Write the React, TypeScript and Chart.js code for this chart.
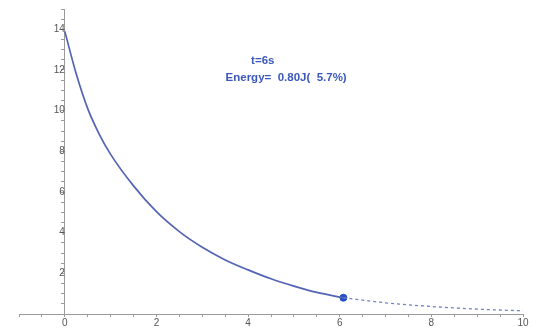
import React, { useEffect, useRef } from "react";
import { Chart, registerables } from "chart.js";

Chart.register(...registerables);

// Solid part of the curve
const tSolid = [0, 0.25, 0.5, 0.75, 1.0, 1.5, 2.0, 2.5, 3.0, 3.5, 4.0, 4.5, 5.0, 5.5, 6.08];
const ySolid = [13.9, 11.8, 10.1, 8.85, 7.85, 6.3, 5.03, 4.05, 3.28, 2.66, 2.17, 1.73, 1.37, 1.06, 0.8];
// Dashed continuation
const tDash = [6.08, 7.0, 8.0, 9.0, 10.0];
const yDash = [0.8, 0.55, 0.37, 0.24, 0.155];
// Current point
const tNow = [6.08];
const yNow = [0.8];

const xTickLabels = [0, 2, 4, 6, 8, 10];
const yTickLabels = [2, 4, 6, 8, 10, 12, 14];

const titleLine1 = "t=6s";
const titleLine2 = "Energy=  0.80J(  5.7%)";

const lineColor = "#5464b4";
const dashColor = "#7582c2";
const pointColor = "#2350c6";
const textColor = "#3c58bc";
const axisColor = "#9a9a9a";
const tickTextColor = "#555555";

export default function App() {
  const ref = useRef<HTMLCanvasElement | null>(null);

  useEffect(() => {
    document.body.style.margin = "0";
    const canvas = ref.current;
    if (!canvas) return;

    const textPlugin = {
      id: "annot",
      afterDatasetsDraw(chart: any) {
        const ctx = chart.ctx;
        const xs = chart.scales.x;
        const ys = chart.scales.y;
        ctx.save();
        ctx.fillStyle = textColor;
        ctx.font = "bold 11.5px 'Liberation Sans', Arial, sans-serif";
        ctx.textAlign = "center";
        ctx.textBaseline = "alphabetic";
        ctx.fillText(titleLine1, xs.getPixelForValue(4.32), ys.getPixelForValue(12.31));
        ctx.fillText(titleLine2, xs.getPixelForValue(4.83), ys.getPixelForValue(11.45));
        ctx.restore();
      },
    };

    const chart = new Chart(canvas, {
      type: "line",
      data: {
        datasets: [
          {
            data: tSolid.map((t, i) => ({ x: t, y: ySolid[i] })),
            borderColor: lineColor,
            borderWidth: 1.7,
            pointRadius: 0,
            cubicInterpolationMode: "monotone",
            fill: false,
          },
          {
            data: tDash.map((t, i) => ({ x: t, y: yDash[i] })),
            borderColor: dashColor,
            borderWidth: 1.3,
            borderDash: [3, 3],
            pointRadius: 0,
            cubicInterpolationMode: "monotone",
            fill: false,
          },
          {
            data: tNow.map((t, i) => ({ x: t, y: yNow[i] })),
            showLine: false,
            pointRadius: 3.5,
            pointBackgroundColor: pointColor,
            pointBorderColor: pointColor,
          },
        ],
      } as any,
      options: {
        animation: false,
        responsive: false,
        maintainAspectRatio: false,
        layout: { padding: { left: 19, right: 13, top: 4, bottom: 2 } },
        plugins: {
          legend: { display: false },
          tooltip: { enabled: false },
          title: { display: false },
        },
        scales: {
          x: {
            type: "linear",
            min: -1,
            max: 10,
            position: "bottom",
            grid: {
              drawOnChartArea: false,
              drawTicks: true,
              tickLength: 3,
              color: axisColor,
            },
            border: { display: true, color: axisColor, width: 1 },
            ticks: {
              stepSize: 0.5,
              autoSkip: false,
              maxRotation: 0,
              padding: 0,
              color: tickTextColor,
              font: { size: 10, family: "'Liberation Sans', Arial, sans-serif" },
              callback: (v: any) => (xTickLabels.includes(Number(v)) ? String(v) : ""),
            },
          },
          y: {
            type: "linear",
            min: 0,
            max: 15,
            position: { x: 0 } as any,
            grid: {
              drawOnChartArea: false,
              drawTicks: true,
              tickLength: 3,
              color: axisColor,
            },
            border: { display: true, color: axisColor, width: 1 },
            ticks: {
              stepSize: 0.5,
              autoSkip: false,
              padding: 3,
              color: tickTextColor,
              font: { size: 10, family: "'Liberation Sans', Arial, sans-serif" },
              callback: (v: any) => (yTickLabels.includes(Number(v)) ? String(v) : ""),
            },
          },
        },
      } as any,
      plugins: [textPlugin],
    });

    return () => chart.destroy();
  }, []);

  return (
    <div style={{ width: 536, height: 331, background: "#fff" }}>
      <canvas ref={ref} width={536} height={331} style={{ display: "block" }} />
    </div>
  );
}
